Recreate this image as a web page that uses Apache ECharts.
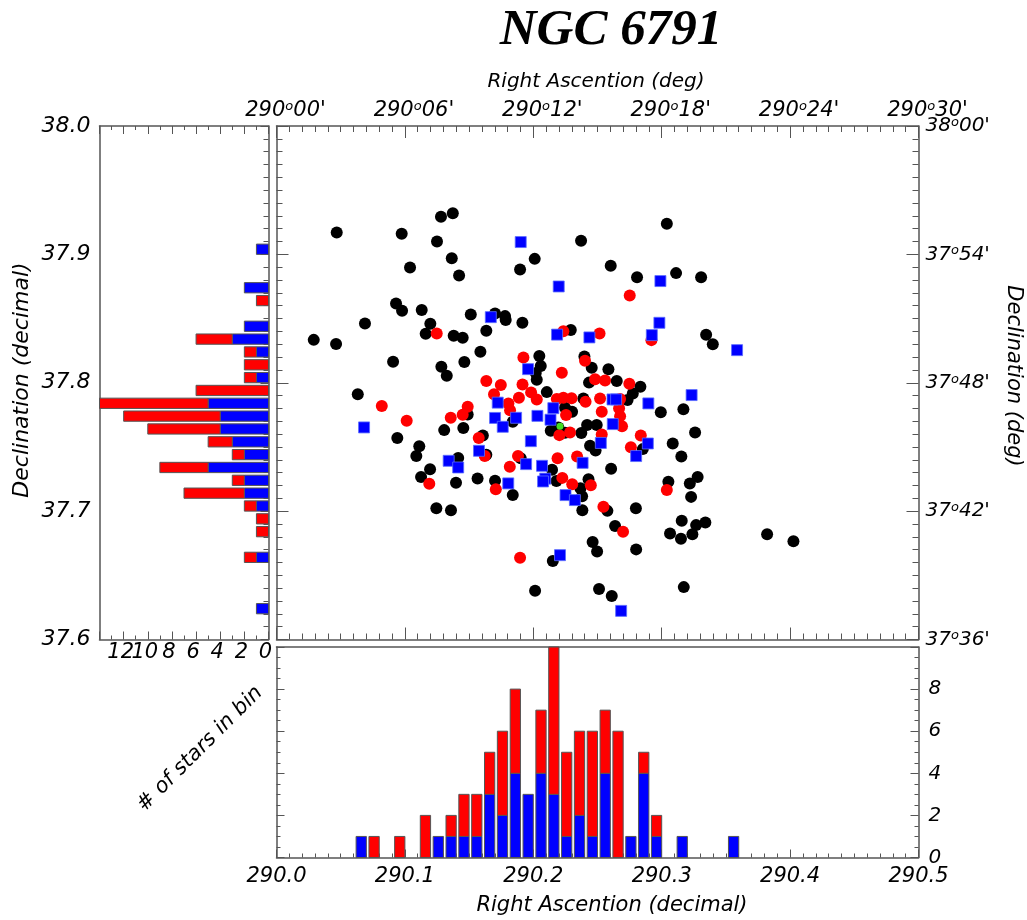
<!DOCTYPE html>
<html><head><meta charset="utf-8">
<script src="https://cdn.jsdelivr.net/npm/echarts@6/dist/echarts.min.js"></script>
<style>html,body{margin:0;padding:0;background:#fff}#c{width:1027px;height:920px}</style>
</head><body><div id="c"></div>
<script>
// ---------------- DATA ----------------
const blackStars = [
[290.0469,37.9171],[290.0975,37.9160],[290.1281,37.9293],[290.1373,37.9321],[290.1250,37.9101],[290.1365,37.8969],[290.1040,37.8898],[290.1422,37.8836],[290.2011,37.8965],[290.1897,37.8883],
[290.2372,37.9106],[290.3040,37.9238],[290.2603,37.8911],[290.2808,37.8821],[290.3112,37.8854],[290.3307,37.8821],[290.0931,37.8618],[290.0978,37.8560],[290.1131,37.8566],[290.0689,37.8462],
[290.1198,37.8459],[290.1162,37.8381],[290.1513,37.8532],[290.1702,37.8540],[290.1780,37.8519],[290.1785,37.8488],[290.1915,37.8467],[290.1634,37.8405],[290.1380,37.8366],[290.1450,37.8350],
[290.0290,37.8334],[290.0464,37.8301],[290.2292,37.8410],[290.1588,37.8241],[290.0908,37.8163],[290.1463,37.8161],[290.1284,37.8124],[290.1326,37.8054],[290.2047,37.8208],[290.2058,37.8130],
[290.2019,37.8075],[290.2027,37.8024],[290.2398,37.8205],[290.2455,37.8116],[290.2585,37.8105],[290.3346,37.8373],[290.3398,37.8299],[290.2650,37.8013],[290.2834,37.7968],[290.2775,37.7917],
[290.2434,37.8001],[290.2105,37.7927],[290.2390,37.7878],[290.2734,37.7865],[290.2993,37.7771],[290.3169,37.7793],[290.3260,37.7613],[290.2247,37.7806],[290.2302,37.7774],[290.0633,37.7911],
[290.0941,37.7569],[290.1112,37.7505],[290.1089,37.7429],[290.1196,37.7326],[290.1126,37.7265],[290.1245,37.7023],[290.1359,37.7006],[290.1306,37.7631],[290.1455,37.7647],[290.1489,37.7753],
[290.1607,37.7590],[290.1634,37.7439],[290.1415,37.7413],[290.1398,37.7221],[290.1566,37.7255],[290.1702,37.7236],[290.1840,37.7125],[290.1840,37.7696],[290.1902,37.7411],[290.2146,37.7322],
[290.2180,37.7234],[290.2136,37.7627],[290.2247,37.7610],[290.2195,37.7652],[290.2374,37.7608],[290.2419,37.7670],[290.2494,37.7670],[290.2442,37.7510],[290.2485,37.7473],[290.2367,37.7179],
[290.2380,37.7115],[290.2430,37.7249],[290.2382,37.7006],[290.2577,37.7002],[290.2799,37.7023],[290.2606,37.7331],[290.3086,37.7526],[290.3153,37.7425],[290.2853,37.7483],[290.3052,37.7228],
[290.3219,37.7216],[290.3280,37.7265],[290.3229,37.7111],[290.2637,37.6885],[290.2462,37.6759],[290.2497,37.6686],[290.2801,37.6702],[290.3156,37.6925],[290.3268,37.6891],[290.3340,37.6911],
[290.3065,37.6826],[290.3150,37.6784],[290.3239,37.6819],[290.3821,37.6819],[290.4026,37.6766],[290.2152,37.6611],[290.2014,37.6379],[290.2512,37.6394],[290.2611,37.6338],[290.3172,37.6408]
];
const redStars = [
[290.1248,37.8384],[290.2234,37.8402],[290.2516,37.8384],[290.2920,37.8332],[290.2751,37.8680],[290.1923,37.8197],[290.2222,37.8077],[290.2403,37.8171],[290.2481,37.8028],[290.2559,37.8017],
[290.2748,37.7993],[290.1634,37.8013],[290.1747,37.7982],[290.1916,37.7987],[290.1694,37.7910],[290.1888,37.7883],[290.1983,37.7925],[290.2027,37.7869],[290.2183,37.7874],[290.2234,37.7883],
[290.2298,37.7879],[290.2520,37.7878],[290.2676,37.7873],[290.2668,37.7802],[290.2676,37.7740],[290.2691,37.7662],[290.2407,37.7852],[290.2255,37.7748],[290.2533,37.7774],[290.1806,37.7839],
[290.1819,37.7785],[290.1489,37.7813],[290.1450,37.7750],[290.1357,37.7728],[290.1014,37.7704],[290.0820,37.7818],[290.1190,37.7213],[290.1575,37.7570],[290.1622,37.7429],[290.1708,37.7171],
[290.1817,37.7345],[290.1881,37.7429],[290.2189,37.7411],[290.2341,37.7426],[290.2226,37.7259],[290.2303,37.7209],[290.2448,37.7201],[290.2203,37.7592],[290.2286,37.7613],[290.2533,37.7596],
[290.2837,37.7590],[290.2760,37.7497],[290.2546,37.7034],[290.3040,37.7164],[290.2699,37.6839],[290.1897,37.6636]
];
const blueStars = [
[290.1902,37.9096],[290.2198,37.8750],[290.2990,37.8792],[290.1669,37.8511],[290.2982,37.8467],[290.2185,37.8375],[290.2437,37.8353],[290.2923,37.8371],[290.3587,37.8254],[290.1959,37.8106],
[290.2617,37.7870],[290.2645,37.7870],[290.2896,37.7839],[290.3233,37.7904],[290.1723,37.7845],[290.2156,37.7802],[290.1702,37.7726],[290.1866,37.7727],[290.2032,37.7742],[290.2134,37.7712],
[290.1762,37.7657],[290.2619,37.7678],[290.0682,37.7652],[290.2526,37.7531],[290.2892,37.7527],[290.2801,37.7429],[290.2384,37.7376],[290.1981,37.7545],[290.1944,37.7366],[290.2068,37.7353],
[290.2093,37.7253],[290.2076,37.7231],[290.1805,37.7216],[290.1577,37.7470],[290.1341,37.7392],[290.1415,37.7340],[290.2251,37.7125],[290.2324,37.7086],[290.2208,37.6657],[290.2684,37.6223]
];
const centerStar = [[290.2208,37.7662]];

// Declination histogram (horizontal bars, left panel)
const decBinCenters = [37.624,37.634,37.644,37.654,37.664,37.674,37.684,37.694,37.704,37.714,37.724,37.734,37.744,37.754,37.764,37.774,37.784,37.794,37.804,37.814,37.824,37.834,37.844,37.854,37.864,37.874,37.884,37.894,37.904];
const decBlue = [1,0,0,0,1,0,0,0,1,2,2,5,2,3,4,4,5,0,1,0,1,3,2,0,0,2,0,0,1];
const decRed  = [0,0,0,0,1,0,1,1,1,5,1,4,1,2,6,8,9,6,1,2,1,3,0,0,1,0,0,0,0];

// Right ascension histogram (vertical bars, bottom panel)
const raBinCenters = [290.066,290.076,290.086,290.096,290.106,290.116,290.126,290.136,290.146,290.156,290.166,290.176,290.186,290.196,290.206,290.216,290.226,290.236,290.246,290.256,290.266,290.276,290.286,290.296,290.306,290.316,290.326,290.336,290.346,290.356];
const raBlue = [1,0,0,0,0,0,1,1,1,1,3,2,4,3,4,3,1,2,1,4,0,1,4,1,0,1,0,0,0,1];
const raRed  = [0,1,0,1,0,2,0,1,2,2,2,4,4,0,3,7,4,4,5,3,6,0,1,1,0,0,0,0,0,0];

const raTicks = [290.0,290.1,290.2,290.3,290.4,290.5];
const decTicks = [37.6,37.7,37.8,37.9,38.0];

// ---------------- CHART ----------------
const FONT = 'DejaVu Sans';
const AXC = '#555';
const BIN_HALF = 0.004;

function sexa(v){
  let d = Math.floor(v + 1e-9);
  let m = Math.round((v - d) * 60);
  if (m >= 60) { d += 1; m -= 60; }
  return d + '{o|o}' + (m < 10 ? '0' + m : m) + "'";
}
const labelBase = {fontFamily: FONT, fontStyle: 'italic', color: '#000'};
const sexaRich = {o: {fontFamily: FONT, fontStyle: 'italic', fontSize: 13, verticalAlign: 'top', color: '#000'}};

function axis(o){
  const base = {
    type: 'value', splitLine: {show: false},
    axisLine: {show: true, onZero: false, lineStyle: {color: AXC, width: 1.5}},
    axisTick: {show: true, inside: true, length: 12, lineStyle: {color: AXC}},
    minorTick: {show: true, splitNumber: 10, length: 6, lineStyle: {color: AXC}},
    axisLabel: {show: false}
  };
  return Object.assign(base, o);
}

const chart = echarts.init(document.getElementById('c'), null, {renderer: 'canvas'});

function raBar(isRed){
  return function(params, api){
    const c = api.value(0), b = api.value(1), r = api.value(2);
    const lo = isRed ? b : 0, hi = isRed ? b + r : b;
    if (hi <= lo) return null;
    const p1 = api.coord([c - BIN_HALF, hi]);
    const p2 = api.coord([c + BIN_HALF, lo]);
    return {type: 'rect', shape: {x: p1[0], y: p1[1], width: p2[0] - p1[0], height: p2[1] - p1[1]},
      style: {fill: isRed ? '#ff0000' : '#0000ff', stroke: '#555', lineWidth: 1}};
  };
}
function decBar(isRed){
  return function(params, api){
    const c = api.value(0), b = api.value(1), r = api.value(2);
    const lo = isRed ? b : 0, hi = isRed ? b + r : b;
    if (hi <= lo) return null;
    const p1 = api.coord([hi, c + BIN_HALF]);
    const p2 = api.coord([lo, c - BIN_HALF]);
    const x = Math.min(p1[0], p2[0]), w = Math.abs(p2[0] - p1[0]);
    return {type: 'rect', shape: {x: x, y: p1[1], width: w, height: p2[1] - p1[1]},
      style: {fill: isRed ? '#ff0000' : '#0000ff', stroke: '#555', lineWidth: 1}};
  };
}
const raData = raBinCenters.map((c, i) => [c, raBlue[i], raRed[i]]);
const decData = decBinCenters.map((c, i) => [c, decBlue[i], decRed[i]]);

const option = {
  animation: false,
  backgroundColor: '#fff',
  grid: [
    {left: 276.5, top: 126, width: 642, height: 513.5, containLabel: false, outerBoundsMode: 'none'},
    {left: 99.5, top: 126, width: 169, height: 513.5, containLabel: false, outerBoundsMode: 'none'},
    {left: 276.5, top: 647, width: 642, height: 210.5, containLabel: false, outerBoundsMode: 'none'}
  ],
  xAxis: [
    axis({gridIndex: 0, position: 'top', min: raTicks[0], max: raTicks[5], interval: 0.1,
      axisLabel: Object.assign({show: true, fontSize: 21, margin: 5, padding: [0, 0, 0, 18],
        formatter: v => sexa(v), rich: sexaRich, showMinLabel: true, showMaxLabel: true}, labelBase)}),
    axis({gridIndex: 0, position: 'bottom', min: raTicks[0], max: raTicks[5], interval: 0.1}),
    axis({gridIndex: 1, position: 'bottom', min: 0, max: 14, interval: 2, inverse: true,
      axisTick: {show: true, inside: true, length: 8, lineStyle: {color: AXC}},
      minorTick: {show: true, splitNumber: 2, length: 4, lineStyle: {color: AXC}},
      axisLabel: Object.assign({show: true, fontSize: 21, margin: 3, padding: [0, 6, 0, 0], showMinLabel: true, showMaxLabel: true,
        formatter: v => (v > 13 ? '' : String(Math.round(v)))}, labelBase)}),
    axis({gridIndex: 1, position: 'top', min: 0, max: 14, interval: 2, inverse: true,
      axisTick: {show: true, inside: true, length: 8, lineStyle: {color: AXC}},
      minorTick: {show: true, splitNumber: 2, length: 4, lineStyle: {color: AXC}}}),
    axis({gridIndex: 2, position: 'bottom', min: raTicks[0], max: raTicks[5], interval: 0.1,
      axisTick: {show: true, inside: true, length: 8, lineStyle: {color: AXC}},
      minorTick: {show: true, splitNumber: 10, length: 4, lineStyle: {color: AXC}},
      axisLabel: Object.assign({show: true, fontSize: 21, margin: 9, showMinLabel: true, showMaxLabel: true,
        formatter: v => v.toFixed(1)}, labelBase)}),
    axis({gridIndex: 2, position: 'top', min: raTicks[0], max: raTicks[5],
      axisTick: {show: false}, minorTick: {show: false}})
  ],
  yAxis: [
    axis({gridIndex: 0, position: 'left', min: decTicks[0], max: decTicks[4], interval: 0.1}),
    axis({gridIndex: 0, position: 'right', min: decTicks[0], max: decTicks[4], interval: 0.1,
      axisLabel: Object.assign({show: true, fontSize: 20, margin: 7, formatter: v => sexa(v), rich: sexaRich,
        showMinLabel: true, showMaxLabel: true}, labelBase)}),
    axis({gridIndex: 1, position: 'left', min: decTicks[0], max: decTicks[4], interval: 0.1,
      axisTick: {show: false}, minorTick: {show: false},
      axisLabel: Object.assign({show: true, fontSize: 22, margin: 9, formatter: v => v.toFixed(1),
        showMinLabel: true, showMaxLabel: true}, labelBase)}),
    axis({gridIndex: 1, position: 'right', min: decTicks[0], max: decTicks[4], interval: 0.1,
      axisTick: {show: true, inside: true, length: 8, lineStyle: {color: AXC}},
      minorTick: {show: true, splitNumber: 10, length: 5, lineStyle: {color: AXC}}}),
    axis({gridIndex: 2, position: 'right', min: 0, max: 10, interval: 2,
      axisTick: {show: true, inside: true, length: 8, lineStyle: {color: AXC}},
      minorTick: {show: true, splitNumber: 4, length: 4, lineStyle: {color: AXC}},
      axisLabel: Object.assign({show: true, fontSize: 20, margin: 10, showMinLabel: true, showMaxLabel: true,
        formatter: v => (v > 9 ? '' : String(v))}, labelBase)}),
    axis({gridIndex: 2, position: 'left', min: 0, max: 10, interval: 2,
      axisTick: {show: true, inside: true, length: 8, lineStyle: {color: AXC}},
      minorTick: {show: true, splitNumber: 4, length: 4, lineStyle: {color: AXC}}})
  ],
  series: [
    {type: 'scatter', xAxisIndex: 0, yAxisIndex: 0, data: blackStars, symbol: 'circle', symbolSize: 12,
      itemStyle: {color: '#000000', opacity: 1}, silent: true},
    {type: 'scatter', xAxisIndex: 0, yAxisIndex: 0, data: redStars, symbol: 'circle', symbolSize: 12,
      itemStyle: {color: '#ff0000', opacity: 1}, silent: true},
    {type: 'scatter', xAxisIndex: 0, yAxisIndex: 0, data: blueStars, symbol: 'rect', symbolSize: 11,
      itemStyle: {color: '#0000ff', borderColor: '#5a6cff', borderWidth: 0.8, opacity: 1}, silent: true},
    {type: 'scatter', xAxisIndex: 0, yAxisIndex: 0, data: centerStar, symbol: 'circle', symbolSize: 7,
      itemStyle: {color: '#44dd22', opacity: 1}, silent: true},
    {type: 'custom', xAxisIndex: 4, yAxisIndex: 4, data: raData, renderItem: raBar(false), silent: true},
    {type: 'custom', xAxisIndex: 4, yAxisIndex: 4, data: raData, renderItem: raBar(true), silent: true},
    {type: 'custom', xAxisIndex: 2, yAxisIndex: 2, data: decData, renderItem: decBar(false), silent: true},
    {type: 'custom', xAxisIndex: 2, yAxisIndex: 2, data: decData, renderItem: decBar(true), silent: true}
  ],
  graphic: [
    {type: 'text', x: 611, y: 31, style: {text: 'NGC 6791', fontFamily: 'Liberation Serif', fontSize: 51,
      fontStyle: 'italic', fontWeight: 'bold', fill: '#000', align: 'center', verticalAlign: 'middle'}},
    {type: 'text', x: 596, y: 82, style: {text: 'Right Ascention (deg)', fontFamily: FONT, fontSize: 20,
      fontStyle: 'italic', fill: '#000', align: 'center', verticalAlign: 'middle'}},
    {type: 'text', x: 612, y: 906, style: {text: 'Right Ascention (decimal)', fontFamily: FONT, fontSize: 21,
      fontStyle: 'italic', fill: '#000', align: 'center', verticalAlign: 'middle'}},
    {type: 'text', x: 22, y: 380, rotation: Math.PI / 2, style: {text: 'Declination (decimal)', fontFamily: FONT,
      fontSize: 22, fontStyle: 'italic', fill: '#000', align: 'center', verticalAlign: 'middle'}},
    {type: 'text', x: 1013, y: 376, rotation: -Math.PI / 2, style: {text: 'Declination (deg)', fontFamily: FONT,
      fontSize: 21, fontStyle: 'italic', fill: '#000', align: 'center', verticalAlign: 'middle'}},
    {type: 'text', x: 200, y: 749, rotation: Math.PI / 4, style: {text: '# of stars in bin', fontFamily: FONT,
      fontSize: 21, fontStyle: 'italic', fill: '#000', align: 'center', verticalAlign: 'middle'}}
  ]
};
chart.setOption(option);
</script></body></html>
